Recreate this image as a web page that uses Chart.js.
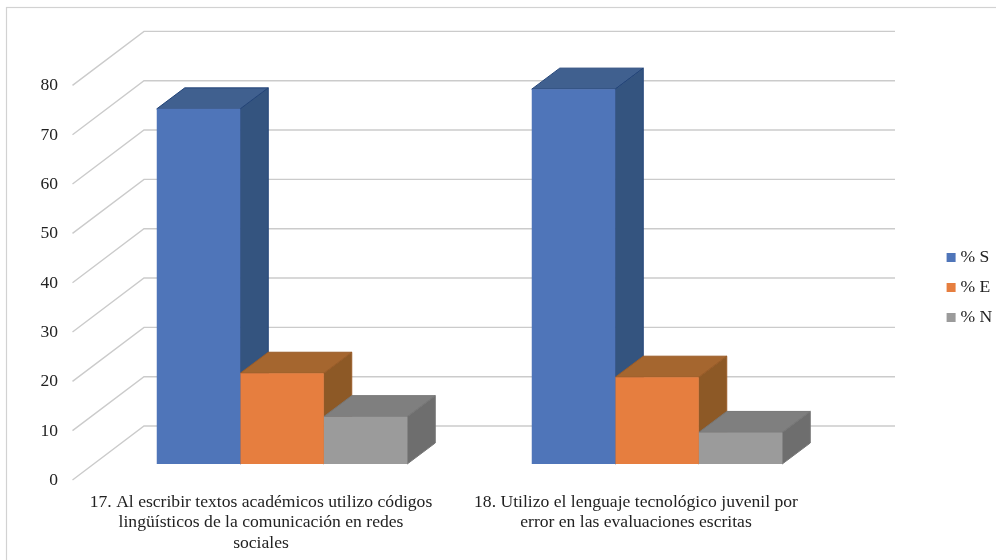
<!DOCTYPE html>
<html><head><meta charset="utf-8">
<script src="https://cdn.jsdelivr.net/npm/chart.js@4"></script>
<style>html,body{margin:0;padding:0;background:#fff}canvas{display:block}</style>
</head><body>
<canvas id="c" width="996" height="560"></canvas>
<script>
const categories = [
  ["17. Al escribir textos académicos utilizo códigos","lingüísticos de la comunicación en redes","sociales"],
  ["18. Utilizo el lenguaje tecnológico juvenil por","error en las evaluaciones escritas"]
];
const seriesNames = ["% S","% E","% N"];
const valuesS = [72, 76];
const valuesE = [18.4, 17.6];
const valuesN = [9.6, 6.4];
const frontColors = ["#4f75b9","#e67e3f","#9b9b9b"];
const topColors = ["#40608f","#a5662f","#7f7f7f"];
const sideColors = ["#34547f","#8d5926","#6e6e6e"];
const edgeColors = ["#234478","#9a5c28","#777777"];
const DEPTH_X = 28, DEPTH_Y = 21;

const threeD = {
  id:'threeD',
  beforeLayout(chart){
    const l = chart.legend;
    if(!l._patched){
      const f = l.fit;
      l.fit = function(){ f.call(this); this.width = 151.5; };
      l._patched = true;
    }
  },
  afterLayout(chart){
    const l = chart.legend;
    const w = l.right - l.left, h = l.bottom - l.top;
    l.left = 938.2; l.right = 938.2 + w;
    l.top = 42.2; l.bottom = l.top + h;
  },
  beforeDraw(chart){
    const ctx = chart.ctx;
    ctx.save();
    ctx.strokeStyle = '#d2d2d2'; ctx.lineWidth = 1.2;
    ctx.strokeRect(6.5,7.5,1100,700);
    ctx.restore();
  },
  beforeDatasetsDraw(chart){
    const ctx = chart.ctx, y = chart.scales.y, a = chart.chartArea;
    ctx.save();
    ctx.strokeStyle = '#cbcbcb'; ctx.lineWidth = 1.4;
    y.ticks.forEach(t=>{
      const p = y.getPixelForValue(t.value);
      ctx.beginPath();
      ctx.moveTo(a.left-22, p+16);
      ctx.lineTo(a.left+49.5, p-38);
      ctx.lineTo(a.right+50.5, p-38);
      ctx.stroke();
    });
    chart.data.datasets.forEach((ds,i)=>{
      chart.getDatasetMeta(i).data.forEach(b=>{
        const p = b.getProps(['x','y','base','width']);
        const l = p.x-p.width/2, r = p.x+p.width/2, t = p.y, bt = p.base;
        ctx.strokeStyle = edgeColors[i]; ctx.lineWidth = 1;
        ctx.fillStyle = topColors[i];
        ctx.beginPath();
        ctx.moveTo(l,t); ctx.lineTo(l+DEPTH_X,t-DEPTH_Y); ctx.lineTo(r+DEPTH_X,t-DEPTH_Y); ctx.lineTo(r,t);
        ctx.closePath(); ctx.fill(); ctx.stroke();
        ctx.fillStyle = sideColors[i];
        ctx.beginPath();
        ctx.moveTo(r,t); ctx.lineTo(r+DEPTH_X,t-DEPTH_Y); ctx.lineTo(r+DEPTH_X,bt-DEPTH_Y); ctx.lineTo(r,bt);
        ctx.closePath(); ctx.fill(); ctx.stroke();
      });
    });
    ctx.restore();
  }
};

new Chart(document.getElementById('c'),{
  type:'bar',
  data:{
    labels:categories,
    datasets:[
      {label:seriesNames[0],data:valuesS,backgroundColor:frontColors[0],borderWidth:0},
      {label:seriesNames[1],data:valuesE,backgroundColor:frontColors[1],borderWidth:0},
      {label:seriesNames[2],data:valuesN,backgroundColor:frontColors[2],borderWidth:0}
    ]
  },
  plugins:[threeD],
  options:{
    responsive:false,
    animation:false,
    layout:{padding:{top:69.4,left:0,right:0,bottom:0}},
    datasets:{bar:{categoryPercentage:0.668,barPercentage:1}},
    plugins:{
      title:{display:false},
      tooltip:{enabled:false},
      legend:{
        position:'right',
        labels:{
          usePointStyle:true,pointStyle:'rect',boxWidth:1,boxHeight:9,padding:12.4,
          color:'#222',
          font:{family:'"Liberation Serif"',size:17.6,lineHeight:19/17.6}
        }
      }
    },
    scales:{
      x:{
        grid:{display:false,drawTicks:false},
        border:{display:false},
        afterFit(s){s.height=96;},
        ticks:{
          color:'#222',padding:28,labelOffset:-21,autoSkip:false,maxRotation:0,minRotation:0,
          font:{family:'"Liberation Serif"',size:17.6,lineHeight:20.5/17.6}
        }
      },
      y:{
        min:0,max:80,
        grid:{display:false,drawTicks:false},
        border:{display:false},
        afterFit(s){s.width=94.5;},
        ticks:{
          stepSize:10,color:'#222',padding:36.5,labelOffset:16.5,
          font:{family:'"Liberation Serif"',size:17.5}
        }
      }
    }
  }
});
</script>
</body></html>
